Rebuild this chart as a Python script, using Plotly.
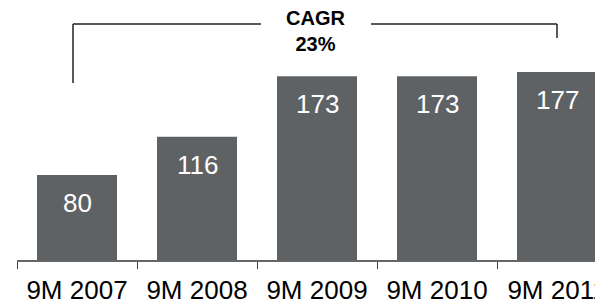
import plotly.graph_objects as go

categories = ["9M 2007", "9M 2008", "9M 2009", "9M 2010", "9M 2011"]
values = [80, 116, 173, 173, 177]
cagr_label = "CAGR<br>23%"

BAR = "#5f6265"
FONT = "Liberation Sans, Arial, sans-serif"

# the page body adds an 8px margin; positions below are page pixels
OFF = 8
W, H = 603 - OFF, 304 - OFF
AXIS_Y = 260            # page y of the x axis
PLOT_L = 17             # page x of the plot's left edge
L = PLOT_L - OFF
B = (304 - AXIS_Y)
step = 120.0
plot_w = 603 - PLOT_L
x_end = plot_w / step - 0.5
plot_h = H - B
ppu = 1.0625
y_top = plot_h / ppu

def px_to_x(px):
    return (px - PLOT_L) / step - 0.5

def px_to_y(py):
    return (AXIS_Y - py) / ppu

fig = go.Figure()
fig.add_trace(go.Bar(
    x=categories, y=values, marker=dict(color=BAR, line=dict(width=0)),
    width=80 / step, hoverinfo="skip",
))

annotations = []
for c, v in zip(categories, values):
    annotations.append(dict(
        x=c, y=v, xref="x", yref="y", text=str(v), showarrow=False,
        yanchor="middle", yshift=-28,
        font=dict(family=FONT, size=26, color="white"),
    ))
annotations.append(dict(
    x=px_to_x(315), y=px_to_y(31), xref="x", yref="y", text=cagr_label,
    showarrow=False, xanchor="center", yanchor="middle",
    font=dict(family=FONT, size=20, color="black", weight="bold"),
))

line = dict(color="#222222", width=1.5)
shapes = [
    dict(type="line", xref="x", yref="y", x0=px_to_x(73), x1=px_to_x(73),
         y0=px_to_y(83), y1=px_to_y(24), line=line),
    dict(type="line", xref="x", yref="y", x0=px_to_x(73), x1=px_to_x(261),
         y0=px_to_y(24), y1=px_to_y(24), line=line),
    dict(type="line", xref="x", yref="y", x0=px_to_x(371), x1=px_to_x(557),
         y0=px_to_y(24), y1=px_to_y(24), line=line),
    dict(type="line", xref="x", yref="y", x0=px_to_x(557), x1=px_to_x(557),
         y0=px_to_y(24), y1=px_to_y(38), line=line),
]

fig.update_layout(
    width=W, height=H,
    margin=dict(l=L, r=0, t=0, b=B, pad=0),
    paper_bgcolor="white", plot_bgcolor="white",
    showlegend=False,
    annotations=annotations, shapes=shapes,
    xaxis=dict(
        range=[-0.5, x_end], showgrid=False, zeroline=False,
        showline=True, linecolor="#666666", linewidth=1.5,
        ticks="outside", tickson="boundaries", ticklen=7, tickcolor="#444444",
        tickwidth=1, tickfont=dict(family=FONT, size=26, color="black"),
        ticklabelstandoff=6,
        automargin=False, fixedrange=True,
    ),
    yaxis=dict(range=[0, y_top], visible=False, fixedrange=True),
)

fig.write_html("out.html")
